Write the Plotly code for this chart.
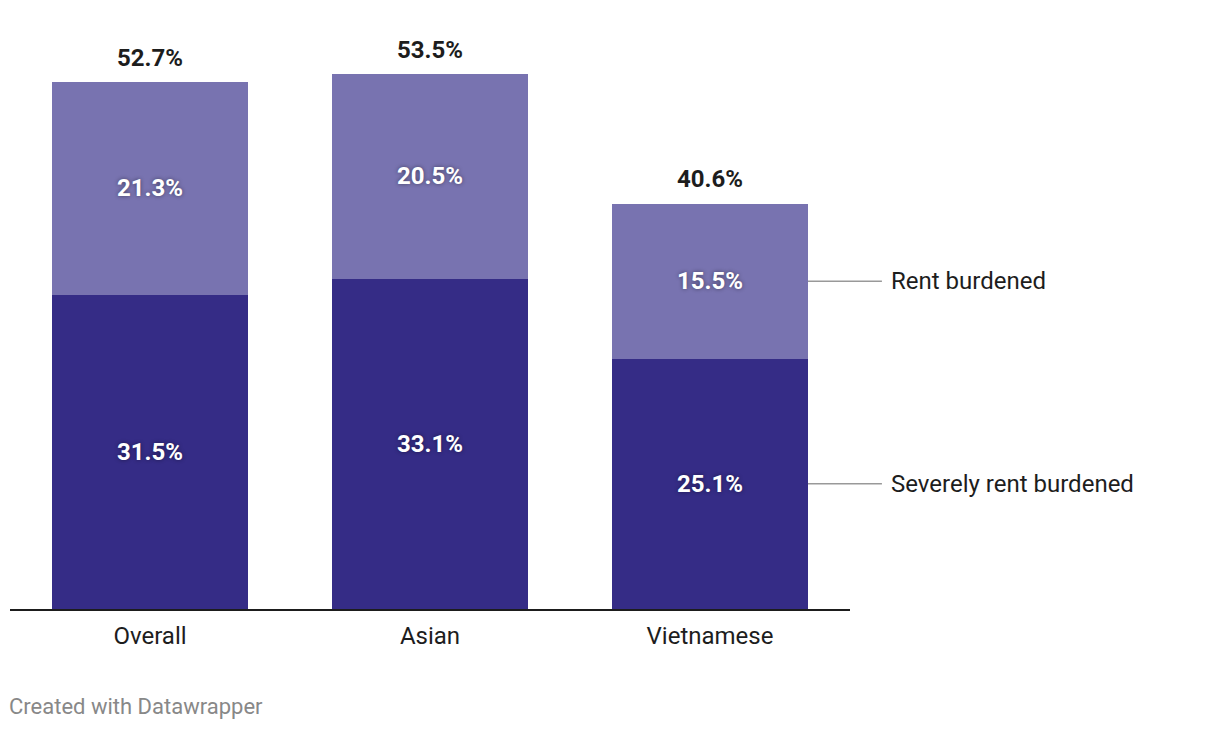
import plotly.graph_objects as go

categories = ["Overall", "Asian", "Vietnamese"]
severely = [31.5, 33.1, 25.1]
burdened = [21.3, 20.5, 15.5]
totals = [52.7, 53.5, 40.6]
series_names = ["Severely rent burdened", "Rent burdened"]

DARK = "#352c86"
LIGHT = "#7873b0"
FONT = "Roboto"
TXT = "#1d1d1d"

fig = go.Figure()
for name, vals, col in [(series_names[0], severely, DARK), (series_names[1], burdened, LIGHT)]:
    fig.add_trace(go.Bar(
        x=categories, y=vals, name=name, marker=dict(color=col, line=dict(width=0)),
        width=0.7, texttemplate="%{y:.1f}%", textposition="inside",
        insidetextanchor="middle", cliponaxis=False,
        textfont=dict(family=FONT, size=24, color="white", weight="bold",
                      shadow="0px 0px 4px rgba(0,0,0,0.45)"),
        hoverinfo="skip",
    ))

# total labels
for c, t in zip(categories, totals):
    fig.add_annotation(x=c, y=t, text=f"{t:.1f}%", showarrow=False, yanchor="middle", yshift=25,
                       font=dict(family=FONT, size=24, color=TXT, weight="bold"))

# series labels at last bar
last = len(categories) - 1
centers = [severely[last] / 2, severely[last] + burdened[last] / 2]
for name, yc in zip(series_names, centers):
    fig.add_shape(type="line", xref="paper", yref="y", x0=0.95, x1=1.038, y0=yc, y1=yc,
                  line=dict(color="#999999", width=1.5))
    fig.add_annotation(x=1.046, y=yc, xref="paper", yref="y", text=name, showarrow=False,
                       xanchor="left", yanchor="middle",
                       font=dict(family=FONT, size=24, color=TXT))

fig.add_annotation(x=-0.003, y=-0.169, xref="paper", yref="paper", text="Created with Datawrapper",
                   showarrow=False, xanchor="left", yanchor="middle",
                   font=dict(family=FONT, size=22, color="#888888"))

fig.update_layout(
    width=1220, height=730, barmode="stack", showlegend=False,
    margin=dict(l=2, r=378, t=22, b=129),
    plot_bgcolor="white", paper_bgcolor="white",
    font=dict(family=FONT),
    xaxis=dict(range=[-0.5, 2.5], showline=True, linecolor=TXT, linewidth=2,
               showgrid=False, ticks="", ticklabelstandoff=4,
               tickfont=dict(family=FONT, size=24, color=TXT)),
    yaxis=dict(range=[0, 58.02], visible=False, showgrid=False, zeroline=False),
)

fig.write_html("out.html")
